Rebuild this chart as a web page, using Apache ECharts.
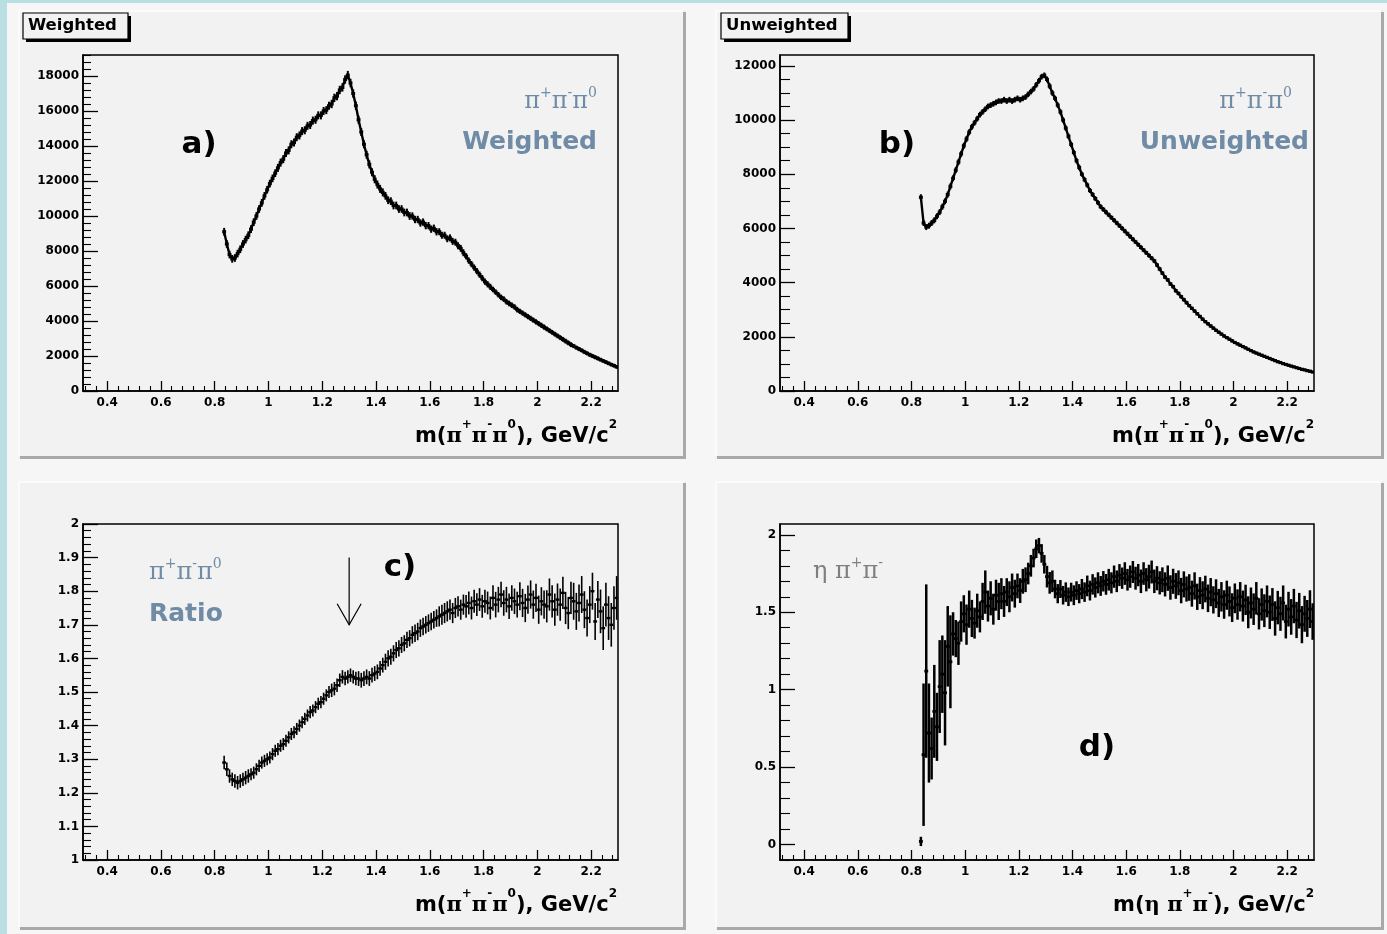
<!DOCTYPE html>
<html>
<head>
<meta charset="utf-8">
<script src="https://cdn.jsdelivr.net/npm/echarts@6/dist/echarts.min.js"></script>
<style>
  html, body { margin: 0; padding: 0; background: #f6f6f6; }
  #chart { width: 1387px; height: 934px; }
</style>
</head>
<body>
<div id="chart"></div>
<script>
// Histogram binning shared by all four panels (GeV/c^2)
const binLow = 0.83;
const binWidth = 0.01;

// a) weighted pi+ pi- pi0 mass spectrum, events per bin
const weighted = [
  9100, 8400, 7800, 7550, 7600, 7850, 8100, 8400, 8650, 8900,
  9250, 9650, 10000, 10400, 10750, 11150, 11500, 11850, 12150, 12450,
  12750, 13050, 13250, 13600, 13750, 14100, 14200, 14500, 14600, 14850,
  14900, 15150, 15200, 15450, 15500, 15750, 15750, 16000, 16050, 16300,
  16400, 16750, 16850, 17200, 17350, 17800, 18050, 17600, 17000, 16300,
  15500, 14800, 14100, 13500, 12950, 12500, 12100, 11800, 11550, 11350,
  11150, 10900, 10850, 10600, 10600, 10400, 10400, 10200, 10200, 10000,
  10000, 9800, 9800, 9600, 9650, 9450, 9450, 9250, 9300, 9100,
  9100, 8900, 8900, 8700, 8750, 8550, 8500, 8300, 8150, 7900,
  7700, 7450, 7250, 7050, 6850, 6650, 6450, 6250, 6100, 5950,
  5800, 5650, 5500, 5350, 5250, 5100, 5000, 4900, 4800, 4650,
  4550, 4450, 4350, 4250, 4150, 4050, 3950, 3850, 3750, 3650,
  3550, 3450, 3350, 3250, 3150, 3050, 2950, 2850, 2750, 2650,
  2570, 2480, 2400, 2320, 2230, 2150, 2070, 2000, 1930, 1860,
  1790, 1720, 1650, 1580, 1510, 1450, 1380
];
// statistical errors, one value per 0.1 GeV/c^2 of bins
const weightedErr = [220, 220, 230, 230, 240, 230, 220, 210, 200, 180, 160, 150, 140, 120, 110];

// b) unweighted pi+ pi- pi0 mass spectrum
const unweighted = [
  7150, 6200, 6050, 6100, 6200, 6300, 6450, 6600, 6800, 7000,
  7250, 7550, 7850, 8150, 8450, 8750, 9050, 9300, 9550, 9750,
  9900, 10050, 10200, 10300, 10400, 10500, 10550, 10600, 10650, 10700,
  10700, 10750, 10700, 10750, 10700, 10750, 10800, 10750, 10800, 10850,
  10950, 11050, 11150, 11300, 11450, 11600, 11650, 11500, 11250, 11000,
  10800, 10550, 10300, 10000, 9700, 9400, 9100, 8800, 8500, 8250,
  8000, 7800, 7600, 7400, 7250, 7100, 6950, 6800, 6700, 6600,
  6500, 6400, 6300, 6200, 6100, 6000, 5900, 5800, 5700, 5600,
  5500, 5400, 5300, 5200, 5100, 5000, 4900, 4800, 4650, 4500,
  4350, 4200, 4100, 3950, 3850, 3700, 3600, 3480, 3370, 3260,
  3150, 3050, 2950, 2850, 2750, 2650, 2560, 2480, 2400, 2320,
  2240, 2170, 2100, 2030, 1970, 1910, 1850, 1790, 1740, 1690,
  1640, 1590, 1540, 1490, 1440, 1400, 1360, 1320, 1280, 1240,
  1200, 1160, 1120, 1080, 1050, 1010, 980, 950, 920, 890,
  860, 830, 800, 780, 750, 730, 700
];
const unweightedErr = [110, 110, 105, 105, 105, 100, 90, 85, 80, 70, 60, 55, 45, 40, 35];

// c) weighted / unweighted ratio for pi+ pi- pi0
const ratio3pi = [
  1.29, 1.27, 1.25, 1.24, 1.235, 1.23, 1.235, 1.24, 1.245, 1.25,
  1.255, 1.26, 1.27, 1.28, 1.29, 1.295, 1.30, 1.305, 1.315, 1.325,
  1.33, 1.34, 1.345, 1.355, 1.365, 1.375, 1.38, 1.39, 1.40, 1.41,
  1.42, 1.43, 1.44, 1.445, 1.455, 1.465, 1.47, 1.48, 1.49, 1.50,
  1.505, 1.51, 1.52, 1.535, 1.545, 1.54, 1.545, 1.55, 1.545, 1.54,
  1.54, 1.535, 1.54, 1.545, 1.54, 1.55, 1.555, 1.56, 1.57, 1.58,
  1.59, 1.60, 1.605, 1.615, 1.625, 1.63, 1.64, 1.645, 1.655, 1.66,
  1.67, 1.675, 1.68, 1.69, 1.695, 1.70, 1.705, 1.71, 1.715, 1.72,
  1.725, 1.73, 1.735, 1.74, 1.745, 1.735, 1.75, 1.755, 1.745, 1.76,
  1.755, 1.765, 1.75, 1.77, 1.76, 1.775, 1.755, 1.77, 1.765, 1.75,
  1.78, 1.76, 1.775, 1.79, 1.765, 1.775, 1.755, 1.78, 1.77, 1.76,
  1.785, 1.765, 1.75, 1.775, 1.79, 1.76, 1.78, 1.745, 1.77, 1.76,
  1.755, 1.79, 1.77, 1.745, 1.775, 1.76, 1.795, 1.75, 1.735, 1.78,
  1.77, 1.74, 1.765, 1.79, 1.745, 1.72, 1.76, 1.80, 1.71, 1.775,
  1.74, 1.69, 1.76, 1.72, 1.70, 1.75, 1.78
];
const ratio3piErr = [0.02, 0.018, 0.018, 0.018, 0.02, 0.022, 0.024, 0.026, 0.03, 0.034, 0.038, 0.042, 0.048, 0.055, 0.065];

// d) weighted / unweighted ratio for eta pi+ pi-
const ratioEta = [
  0.02, 0.58, 1.12, 0.72, 0.62, 0.86, 0.76, 1.02, 1.10, 0.98,
  1.28, 1.18, 1.36, 1.33, 1.30, 1.44, 1.49, 1.42, 1.52, 1.46,
  1.43, 1.51, 1.47, 1.57, 1.63, 1.54, 1.59, 1.52, 1.61, 1.57,
  1.62, 1.57, 1.63, 1.60, 1.66, 1.62, 1.67, 1.64, 1.70, 1.71,
  1.75, 1.80, 1.85, 1.91, 1.93, 1.88, 1.81, 1.73, 1.69, 1.70,
  1.65, 1.62, 1.65, 1.61, 1.63, 1.60, 1.63, 1.61, 1.64, 1.62,
  1.65, 1.63, 1.67, 1.64, 1.68, 1.66, 1.69, 1.67, 1.70, 1.68,
  1.71, 1.69, 1.73, 1.70, 1.74, 1.72, 1.75, 1.71, 1.73, 1.76,
  1.72, 1.74, 1.70, 1.75, 1.71, 1.73, 1.76, 1.70, 1.72, 1.69,
  1.71, 1.68, 1.72, 1.66, 1.70, 1.67, 1.69, 1.64, 1.68, 1.65,
  1.66, 1.62, 1.67, 1.60, 1.64, 1.61, 1.65, 1.59, 1.63, 1.58,
  1.62, 1.56, 1.60, 1.55, 1.61, 1.57, 1.53, 1.59, 1.55, 1.60,
  1.54, 1.58, 1.50, 1.56, 1.52, 1.59, 1.49, 1.55, 1.51, 1.57,
  1.50, 1.55, 1.46, 1.53, 1.49, 1.56, 1.44, 1.52, 1.47, 1.54,
  1.45, 1.51, 1.42, 1.49, 1.46, 1.52, 1.44
];
const ratioEtaErr = [
  0.03, 0.46, 0.56, 0.32, 0.20, 0.30, 0.22, 0.30, 0.25, 0.34,
  0.26, 0.30, 0.14, 0.12, 0.14, 0.13, 0.12, 0.13, 0.12, 0.12,
  0.10, 0.11, 0.10, 0.12, 0.14, 0.10, 0.11, 0.10, 0.10, 0.12,
  0.10, 0.10, 0.09, 0.10, 0.09, 0.09, 0.08, 0.08, 0.08, 0.08,
  0.07, 0.07, 0.06, 0.06, 0.05, 0.06, 0.06, 0.07, 0.07, 0.07,
  0.06, 0.062, 0.058, 0.06, 0.063, 0.06, 0.061, 0.064, 0.06, 0.062,
  0.065, 0.063, 0.067, 0.064, 0.066, 0.065, 0.068, 0.064, 0.066, 0.067,
  0.07, 0.068, 0.072, 0.07, 0.071, 0.069, 0.073, 0.07, 0.072, 0.071,
  0.074, 0.072, 0.076, 0.073, 0.075, 0.077, 0.074, 0.076, 0.078, 0.075,
  0.08, 0.078, 0.082, 0.079, 0.081, 0.083, 0.08, 0.082, 0.084, 0.081,
  0.086, 0.084, 0.088, 0.085, 0.087, 0.09, 0.086, 0.089, 0.091, 0.088,
  0.093, 0.091, 0.095, 0.092, 0.094, 0.097, 0.093, 0.096, 0.098, 0.095,
  0.10, 0.098, 0.103, 0.10, 0.102, 0.105, 0.101, 0.104, 0.106, 0.103,
  0.108, 0.106, 0.111, 0.108, 0.11, 0.113, 0.109, 0.112, 0.115, 0.111,
  0.117, 0.115, 0.12, 0.116, 0.119, 0.122, 0.118
];

// arrow in panel c: [mass, from ratio, to ratio]
const arrowMark = [[1.30, 1.90, 1.70]];

// axis ranges and labelled ticks
const massRange = [0.31, 2.3];
const massTicks = [0.4, 0.6, 0.8, 1, 1.2, 1.4, 1.6, 1.8, 2, 2.2];
const weightedRange = [0, 19200];
const weightedTicks = [0, 2000, 4000, 6000, 8000, 10000, 12000, 14000, 16000, 18000];
const unweightedRange = [0, 12400];
const unweightedTicks = [0, 2000, 4000, 6000, 8000, 10000, 12000];
const ratio3piRange = [1, 2];
const ratio3piTicks = [1, 1.1, 1.2, 1.3, 1.4, 1.5, 1.6, 1.7, 1.8, 1.9, 2];
const ratioEtaRange = [-0.1, 2.07];
const ratioEtaTicks = [0, 0.5, 1, 1.5, 2];

// secondary tick positions between the labelled ones
function minorTicks(range, step, major) {
  const out = [];
  for (let k = Math.ceil(range[0] / step - 1e-9); k * step <= range[1] + 1e-9; k++) {
    const v = +(k * step).toFixed(6);
    if (!major.some(m => Math.abs(m - v) < 1e-9)) out.push(v);
  }
  return out;
}

const BLUE = '#6f8ba5';
const SANS = '"DejaVu Sans", sans-serif';
const SERIF = '"DejaVu Serif", serif';

const grids = [
  { left: 83, top: 55, width: 535, height: 336 },
  { left: 780, top: 55, width: 534, height: 336 },
  { left: 83, top: 524, width: 535, height: 336 },
  { left: 780, top: 524, width: 534, height: 336 }
].map(g => Object.assign(g, { show: true, borderColor: '#000', borderWidth: 1.5, backgroundColor: 'transparent' }));

const labelStyle = { color: '#000', fontFamily: SANS, fontWeight: 'bold', fontSize: 12 };

function axisPair(dim, gridIndex, range, major, minorStep, majorLen, minorLen) {
  const base = { type: 'value', gridIndex, min: range[0], max: range[1], splitLine: { show: false },
    position: dim === 'x' ? 'bottom' : 'left', offset: 0 };
  return [
    Object.assign({}, base, {
      axisLine: { show: true, onZero: false, lineStyle: { color: '#000', width: 1.5 } },
      axisTick: { show: true, inside: true, length: majorLen, customValues: major, lineStyle: { color: '#000', width: 1.3 } },
      axisLabel: Object.assign({ show: true, customValues: major, formatter: v => String(v), margin: dim === 'x' ? 6 : 4 }, labelStyle)
    }),
    Object.assign({}, base, {
      axisLine: { show: false, onZero: false },
      axisTick: { show: true, inside: true, length: minorLen, customValues: minorTicks(range, minorStep, major), lineStyle: { color: '#000', width: 1.1 } },
      axisLabel: { show: false }
    })
  ];
}

const xAxes = [].concat(
  axisPair('x', 0, massRange, massTicks, 0.04, 10, 5),
  axisPair('x', 1, massRange, massTicks, 0.04, 10, 5),
  axisPair('x', 2, massRange, massTicks, 0.04, 10, 5),
  axisPair('x', 3, massRange, massTicks, 0.04, 10, 5)
);
const yAxes = [].concat(
  axisPair('y', 0, weightedRange, weightedTicks, 400, 15, 8),
  axisPair('y', 1, unweightedRange, unweightedTicks, 500, 15, 10),
  axisPair('y', 2, ratio3piRange, ratio3piTicks, 0.02, 15, 8),
  axisPair('y', 3, ratioEtaRange, ratioEtaTicks, 0.1, 15, 10)
);

const binCenter = i => +(binLow + (i + 0.5) * binWidth).toFixed(4);

// one error-bar mark per bin: horizontal bin-width segment plus vertical error
function errorBars(stepWidth, barWidth) {
  return function (params, api) {
    const x = api.value(0), y = api.value(1), e = api.value(2);
    const l = api.coord([x - binWidth / 2, y]);
    const r = api.coord([x + binWidth / 2, y]);
    const t = api.coord([x, y + e]);
    const b = api.coord([x, y - e]);
    return {
      type: 'group',
      children: [
        { type: 'line', shape: { x1: l[0] - 0.6, y1: l[1], x2: r[0] + 0.6, y2: r[1] }, style: { stroke: '#000', lineWidth: stepWidth } },
        { type: 'line', shape: { x1: t[0], y1: t[1], x2: b[0], y2: b[1] }, style: { stroke: '#000', lineWidth: barWidth } }
      ]
    };
  };
}

function histSeries(gi, values, errAt, stepWidth, barWidth) {
  return {
    type: 'custom',
    xAxisIndex: 2 * gi,
    yAxisIndex: 2 * gi,
    clip: true,
    silent: true,
    z: 3,
    renderItem: errorBars(stepWidth, barWidth),
    data: values.map((v, i) => [binCenter(i), v, errAt(i)])
  };
}

// polyline joining the bin contents, so steep stretches read as one stroke
function traceSeries(gi, values, width) {
  return {
    type: 'line',
    xAxisIndex: 2 * gi,
    yAxisIndex: 2 * gi,
    silent: true,
    symbol: 'none',
    z: 2,
    lineStyle: { color: '#000', width: width },
    data: values.map((v, i) => [binCenter(i), v])
  };
}

const series = [
  traceSeries(0, weighted, 2.4),
  traceSeries(1, unweighted, 2.4),
  histSeries(0, weighted, i => weightedErr[Math.floor(i / 10)], 3.2, 2),
  histSeries(1, unweighted, i => unweightedErr[Math.floor(i / 10)], 3.2, 2),
  histSeries(2, ratio3pi, i => ratio3piErr[Math.floor(i / 10)], 2.4, 1.6),
  histSeries(3, ratioEta, i => ratioEtaErr[i], 2.8, 2.5),
  {
    type: 'custom', xAxisIndex: 4, yAxisIndex: 4, silent: true,
    data: arrowMark,
    renderItem: function (params, api) {
      const top = api.coord([api.value(0), api.value(1)]);
      const tip = api.coord([api.value(0), api.value(2)]);
      const st = { stroke: '#000', lineWidth: 1.2 };
      return {
        type: 'group', children: [
          { type: 'line', shape: { x1: top[0], y1: top[1], x2: tip[0], y2: tip[1] }, style: st },
          { type: 'polyline', shape: { points: [[tip[0] - 12, tip[1] - 21], tip, [tip[0] + 12, tip[1] - 21]] }, style: Object.assign({ fill: null }, st) }
        ]
      };
    }
  }
];

// ---- page decoration: pads, title boxes, annotations ----
function pad(x, y, w, h) {
  return [
    { type: 'rect', z: -10, shape: { x: x, y: y, width: w, height: h }, style: { fill: '#f2f2f2' } },
    { type: 'rect', z: -9, shape: { x: x + w - 3, y: y + 2, width: 3, height: h - 2 }, style: { fill: '#a9a9a9' } },
    { type: 'rect', z: -9, shape: { x: x + 2, y: y + h - 3, width: w - 2, height: 3 }, style: { fill: '#a9a9a9' } },
    { type: 'rect', z: -9, shape: { x: x, y: y, width: w - 3, height: 2 }, style: { fill: '#fbfbfb' } },
    { type: 'rect', z: -9, shape: { x: x, y: y, width: 2, height: h - 3 }, style: { fill: '#fbfbfb' } }
  ];
}

function titleBox(x, y, w, h, label) {
  return [
    { type: 'rect', z: 5, shape: { x: x + 3, y: y + 3, width: w, height: h }, style: { fill: '#000' } },
    { type: 'rect', z: 6, shape: { x: x, y: y, width: w, height: h }, style: { fill: '#f2f2f2', stroke: '#000', lineWidth: 1.2 } },
    { type: 'text', z: 7, x: x + 5, y: y + h / 2,
      style: { text: label, fill: '#000', font: 'bold 16.5px ' + SANS, align: 'left', verticalAlign: 'middle' } }
  ];
}

function label(x, y, text, font, color, align) {
  return { type: 'text', z: 8, x: x, y: y,
    style: { text: text, fill: color, font: font, align: align, verticalAlign: 'middle' } };
}

function richLabel(x, y, text, rich, align) {
  return { type: 'text', z: 8, x: x, y: y,
    style: { text: text, rich: rich, align: align, verticalAlign: 'middle' } };
}

const piRich = color => ({
  p: { fontFamily: SERIF, fontSize: 24, fill: color, lineHeight: 28, verticalAlign: 'bottom' },
  s: { fontFamily: SERIF, fontSize: 14, fill: color, lineHeight: 14, verticalAlign: 'top' }
});
const titleRich = {
  t: { fontFamily: SANS, fontWeight: 'bold', fontSize: 21, fill: '#000', lineHeight: 28, verticalAlign: 'bottom' },
  g: { fontFamily: SERIF, fontWeight: 'bold', fontSize: 21, fill: '#000', lineHeight: 28, verticalAlign: 'bottom' },
  s: { fontFamily: SANS, fontWeight: 'bold', fontSize: 12, fill: '#000', lineHeight: 14, verticalAlign: 'top' }
};
const threePi = '{p|π}{s|+}{p|π}{s|-}{p|π}{s|0}';
const massTitle3pi = '{t|m(}{g|π}{s|+}{g|π}{s|-}{g|π}{s|0}{t|), GeV/c}{s|2}';
const massTitleEta = '{t|m(}{g|η π}{s|+}{g|π}{s|-}{t|), GeV/c}{s|2}';

const graphics = [].concat(
  [
    { type: 'rect', z: -11, shape: { x: 0, y: 0, width: 1387, height: 3 }, style: { fill: '#b9dfe3' } },
    { type: 'rect', z: -11, shape: { x: 0, y: 0, width: 7, height: 934 }, style: { fill: '#b9dfe3' } }
  ],
  pad(18, 10, 668, 449),
  pad(715, 10, 669, 449),
  pad(18, 481, 668, 449),
  pad(715, 481, 669, 449),
  titleBox(23, 13, 105, 26, 'Weighted'),
  titleBox(721, 13, 127, 26, 'Unweighted'),
  [
    label(199, 145, 'a)', 'bold 31px ' + SANS, '#000', 'center'),
    label(897, 145, 'b)', 'bold 31px ' + SANS, '#000', 'center'),
    label(400, 568, 'c)', 'bold 31px ' + SANS, '#000', 'center'),
    label(1097, 748, 'd)', 'bold 31px ' + SANS, '#000', 'center'),
    richLabel(597, 100, threePi, piRich(BLUE), 'right'),
    label(597, 142, 'Weighted', 'bold 25px ' + SANS, BLUE, 'right'),
    richLabel(1292, 100, threePi, piRich(BLUE), 'right'),
    label(1309, 142, 'Unweighted', 'bold 25px ' + SANS, BLUE, 'right'),
    richLabel(149, 571, threePi, piRich(BLUE), 'left'),
    label(149, 614, 'Ratio', 'bold 25px ' + SANS, BLUE, 'left'),
    richLabel(813, 570, '{p|η π}{s|+}{p|π}{s|-}', piRich('#7f7f7f'), 'left'),
    richLabel(617, 433, massTitle3pi, titleRich, 'right'),
    richLabel(1314, 433, massTitle3pi, titleRich, 'right'),
    richLabel(617, 902, massTitle3pi, titleRich, 'right'),
    richLabel(1314, 902, massTitleEta, titleRich, 'right')
  ]
);

const chart = echarts.init(document.getElementById('chart'), null, { renderer: 'canvas' });
chart.setOption({
  backgroundColor: '#f6f6f6',
  animation: false,
  grid: grids,
  xAxis: xAxes,
  yAxis: yAxes,
  series: series,
  graphic: { elements: graphics }
});
</script>
</body>
</html>
